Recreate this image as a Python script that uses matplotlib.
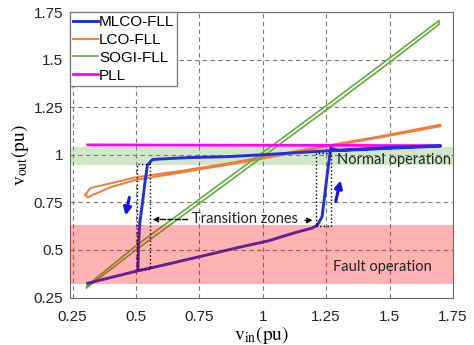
import matplotlib
matplotlib.use('Agg')
from matplotlib import pyplot as plt

plt.rcParams['font.family'] = ['Liberation Sans', 'DejaVu Sans']
plt.rcParams['mathtext.fontset'] = 'stix'

# MLCO-FLL: rising branch, jump near 1.25 pu, then falling branch back to the start
mlco_vin = [0.31, 0.40, 0.50, 0.60, 0.70, 0.80, 0.90, 1.02, 1.125, 1.195, 1.215,
            1.234, 1.254, 1.266, 1.268, 1.30, 1.40, 1.50, 1.60, 1.70,
            1.70, 1.50, 1.27, 1.00, 0.86, 0.70, 0.60, 0.565, 0.545,
            0.535, 0.525, 0.515, 0.51, 0.508, 0.50]
mlco_vout = [0.325, 0.355, 0.388, 0.418, 0.449, 0.48, 0.512, 0.547, 0.59, 0.615, 0.63,
             0.675, 0.895, 1.016, 1.035, 1.022, 1.028, 1.034, 1.04, 1.045,
             1.048, 1.038, 1.022, 1.0, 0.99, 0.985, 0.978, 0.975, 0.945,
             0.85, 0.74, 0.64, 0.52, 0.40, 0.388]

lco_vin = [0.30, 0.31, 0.33, 0.35, 0.40, 0.50, 0.67, 0.85, 1.00, 1.25, 1.45, 1.70,
           1.70, 1.45, 1.25, 1.00, 0.85, 0.67, 0.50, 0.40, 0.35, 0.32, 0.30]
lco_vout = [0.79, 0.775, 0.79, 0.80, 0.83, 0.868, 0.905, 0.945, 0.98, 1.042, 1.088, 1.15,
            1.158, 1.094, 1.048, 0.988, 0.952, 0.914, 0.882, 0.85, 0.835, 0.825, 0.79]

sogi_vin = [0.305, 0.50, 0.75, 1.00, 1.25, 1.50, 1.695,
            1.695, 1.50, 1.25, 1.00, 0.75, 0.50, 0.305]
sogi_vout = [0.30, 0.50, 0.745, 0.99, 1.235, 1.485, 1.685,
             1.705, 1.508, 1.258, 1.012, 0.767, 0.522, 0.31]

pll_vin = [0.31, 0.60, 1.00, 1.40, 1.70]
pll_vout = [1.052, 1.051, 1.050, 1.049, 1.048]

normal_band = (0.945, 1.04)
fault_band = (0.323, 0.63)

fig = plt.figure(figsize=(4.74, 3.45), dpi=100)
ax = fig.add_axes([0.1477, 0.1348, 0.808, 0.8304])

ax.axhspan(normal_band[0], normal_band[1], color='#6ab04c', alpha=0.3, lw=0, zorder=0.5)

ax.plot(mlco_vin, mlco_vout, color='#2230d8', lw=2.1, label='MLCO-FLL', zorder=4)
ax.plot(lco_vin, lco_vout, color='#f57a3c', lw=1.4, label='LCO-FLL', zorder=3)
ax.plot(sogi_vin, sogi_vout, color='#62ae38', lw=1.2, label='SOGI-FLL', zorder=3)
ax.plot(pll_vin, pll_vout, color='#ff00ff', lw=2.0, label='PLL', zorder=3)

ax.axhspan(fault_band[0], fault_band[1], color='#ff0000', alpha=0.3, lw=0, zorder=5)

# transition zones
ax.plot([0.505, 0.555, 0.555, 0.505, 0.505], [0.40, 0.40, 0.95, 0.95, 0.40],
        ls=':', color='k', lw=1.0, zorder=6)
ax.plot([1.21, 1.27, 1.27, 1.21, 1.21], [0.625, 0.625, 1.01, 1.01, 0.625],
        ls=':', color='k', lw=1.0, zorder=6)
ax.text(0.72, 0.66, 'Transition zones', fontsize=10.5, family=['Lato', 'DejaVu Sans'],
        va='center', ha='left', color='#222222', zorder=7)
ax.annotate('', xy=(0.555, 0.66), xytext=(0.715, 0.66),
            arrowprops=dict(arrowstyle='-|>', ls='--', color='k', lw=1.0, mutation_scale=8), zorder=7)
ax.annotate('', xy=(1.208, 0.655), xytext=(1.155, 0.655),
            arrowprops=dict(arrowstyle='-|>', ls='--', color='k', lw=1.0, mutation_scale=8), zorder=7)

# direction of travel
ax.annotate('', xy=(0.457, 0.667), xytext=(0.476, 0.79),
            arrowprops=dict(arrowstyle='-|>', color='#1515e0', lw=2.2, mutation_scale=11), zorder=7)
ax.annotate('', xy=(1.309, 0.88), xytext=(1.285, 0.74),
            arrowprops=dict(arrowstyle='-|>', color='#1515e0', lw=2.2, mutation_scale=11), zorder=7)

ax.text(1.293, 0.97, 'Normal operation', fontsize=10.5, family=['Lato', 'DejaVu Sans'],
        va='center', ha='left', color='#222222', zorder=7)
ax.text(1.277, 0.41, 'Fault operation', fontsize=10.5, family=['Lato', 'DejaVu Sans'],
        va='center', ha='left', color='#222222', zorder=7)

ax.set_xlim(0.24, 1.75)
ax.set_ylim(0.245, 1.75)
ax.set_xticks([0.25, 0.5, 0.75, 1, 1.25, 1.5, 1.75])
ax.set_xticklabels(['0.25', '0.5', '0.75', '1', '1.25', '1.5', '1.75'])
ax.set_yticks([0.25, 0.5, 0.75, 1, 1.25, 1.5, 1.75])
ax.set_yticklabels(['0.25', '0.5', '0.75', '1', '1.25', '1.5', '1.75'])
ax.tick_params(length=0, labelsize=11, colors='#222222')
ax.tick_params(axis='x', pad=8)
ax.tick_params(axis='y', pad=5)
ax.grid(True, ls=(0, (4, 3)), color='#7a7a7a', lw=0.8)
for s in ax.spines.values():
    s.set_color('#6a6a6a')

ax.set_xlabel(r'$\mathrm{v_{in}(pu)}$', fontsize=14, labelpad=0)
ax.set_ylabel(r'$\mathrm{v_{out}(pu)}$', fontsize=14, labelpad=2)

leg = ax.legend(loc='upper left', bbox_to_anchor=(0, 1), borderaxespad=0, fancybox=False,
                edgecolor='#808080', framealpha=1, fontsize=11, handlelength=1.6,
                handletextpad=0.1, labelspacing=0.25, borderpad=0.2)
leg.set_zorder(10)

fig.savefig('out.png', dpi=100)
